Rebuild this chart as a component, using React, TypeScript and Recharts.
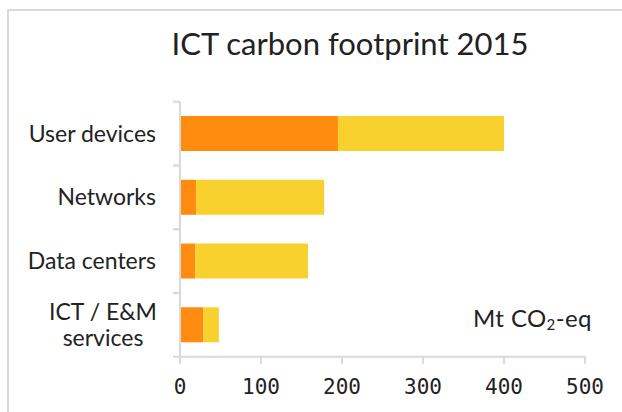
import { BarChart, Bar, XAxis, YAxis } from "recharts";

const categories = ["User devices", "Networks", "Data centers", "ICT / E&M\nservices"];
const production = [195, 20, 19, 29];
const operation = [205, 158, 139, 19];
const xTicks = [0, 100, 200, 300, 400, 500];

const data = categories.map((name, i) => ({
  name,
  production: production[i],
  operation: operation[i],
}));

const GRAY = "#d9d9d9";
const INK = "#222";
const LABEL_GAP = 24;

function CategoryTick(props: any) {
  const { x, y, payload } = props;
  const axisX = x + LABEL_GAP;
  const half = payload.offset ?? 31.875;
  const lines = String(payload.value).split("\n");
  const multi = lines.length > 1;
  return (
    <g>
      <line x1={axisX - 7} x2={axisX} y1={y - half} y2={y - half} stroke={GRAY} strokeWidth={2} />
      <line x1={axisX - 7} x2={axisX} y1={y + half} y2={y + half} stroke={GRAY} strokeWidth={2} />
      <text
        x={multi ? x - 53 : x}
        y={y}
        textAnchor={multi ? "middle" : "end"}
        fontFamily="Lato"
        fontSize={23}
        fill={INK}
      >
        {lines.map((line, i) => (
          <tspan key={i} x={multi ? x - 53 : x} dy={i === 0 ? `${0.35 - (lines.length - 1) * 0.55}em` : "1.1em"}>
            {line}
          </tspan>
        ))}
      </text>
    </g>
  );
}

export default function App() {
  return (
    <div style={{ position: "fixed", left: 0, top: 0, width: 622, height: 412, overflow: "hidden", background: "#fff" }}>
      <div
        style={{
          position: "absolute",
          left: 7,
          top: 9,
          width: 660,
          height: 440,
          border: `2px solid ${GRAY}`,
          boxSizing: "border-box",
        }}
      />
      <div
        style={{
          position: "absolute",
          left: 0,
          top: 25,
          width: 700,
          textAlign: "center",
          fontFamily: "Lato",
          fontSize: 31,
          lineHeight: "37px",
          color: INK,
          whiteSpace: "nowrap",
        }}
      >
        ICT carbon footprint 2015
      </div>
      <div
        style={{
          position: "absolute",
          left: 473,
          top: 303,
          fontFamily: "Lato",
          fontSize: 24,
          lineHeight: "29px",
          letterSpacing: 0.4,
          color: INK,
          whiteSpace: "nowrap",
        }}
      >
        Mt CO<span style={{ fontSize: 15, verticalAlign: -3 }}>2</span>-eq
      </div>
      <div style={{ position: "absolute", left: 0, top: 0 }}>
        <BarChart
          width={622}
          height={412}
          data={data}
          layout="vertical"
          barCategoryGap="22.5%"
          margin={{ top: 101.7, right: 37, bottom: 15.3, left: 0 }}
        >
          <XAxis
            type="number"
            domain={[0, 500]}
            ticks={xTicks}
            interval={0}
            height={40}
            axisLine={{ stroke: GRAY, strokeWidth: 2 }}
            tickLine={{ stroke: GRAY, strokeWidth: 2 }}
            tickSize={7}
            tickMargin={15}
            tick={{ fontFamily: "DejaVu Sans Mono", fontSize: 21, fill: INK }}
          />
          <YAxis
            type="category"
            dataKey="name"
            width={180}
            axisLine={{ stroke: GRAY, strokeWidth: 2 }}
            tickLine={false}
            tickSize={0}
            tickMargin={LABEL_GAP}
            interval={0}
            tick={<CategoryTick />}
          />
          <Bar dataKey="production" stackId="a" fill="#FF8C0F" isAnimationActive={false} />
          <Bar dataKey="operation" stackId="a" fill="#F9D12E" isAnimationActive={false} />
        </BarChart>
      </div>
    </div>
  );
}
